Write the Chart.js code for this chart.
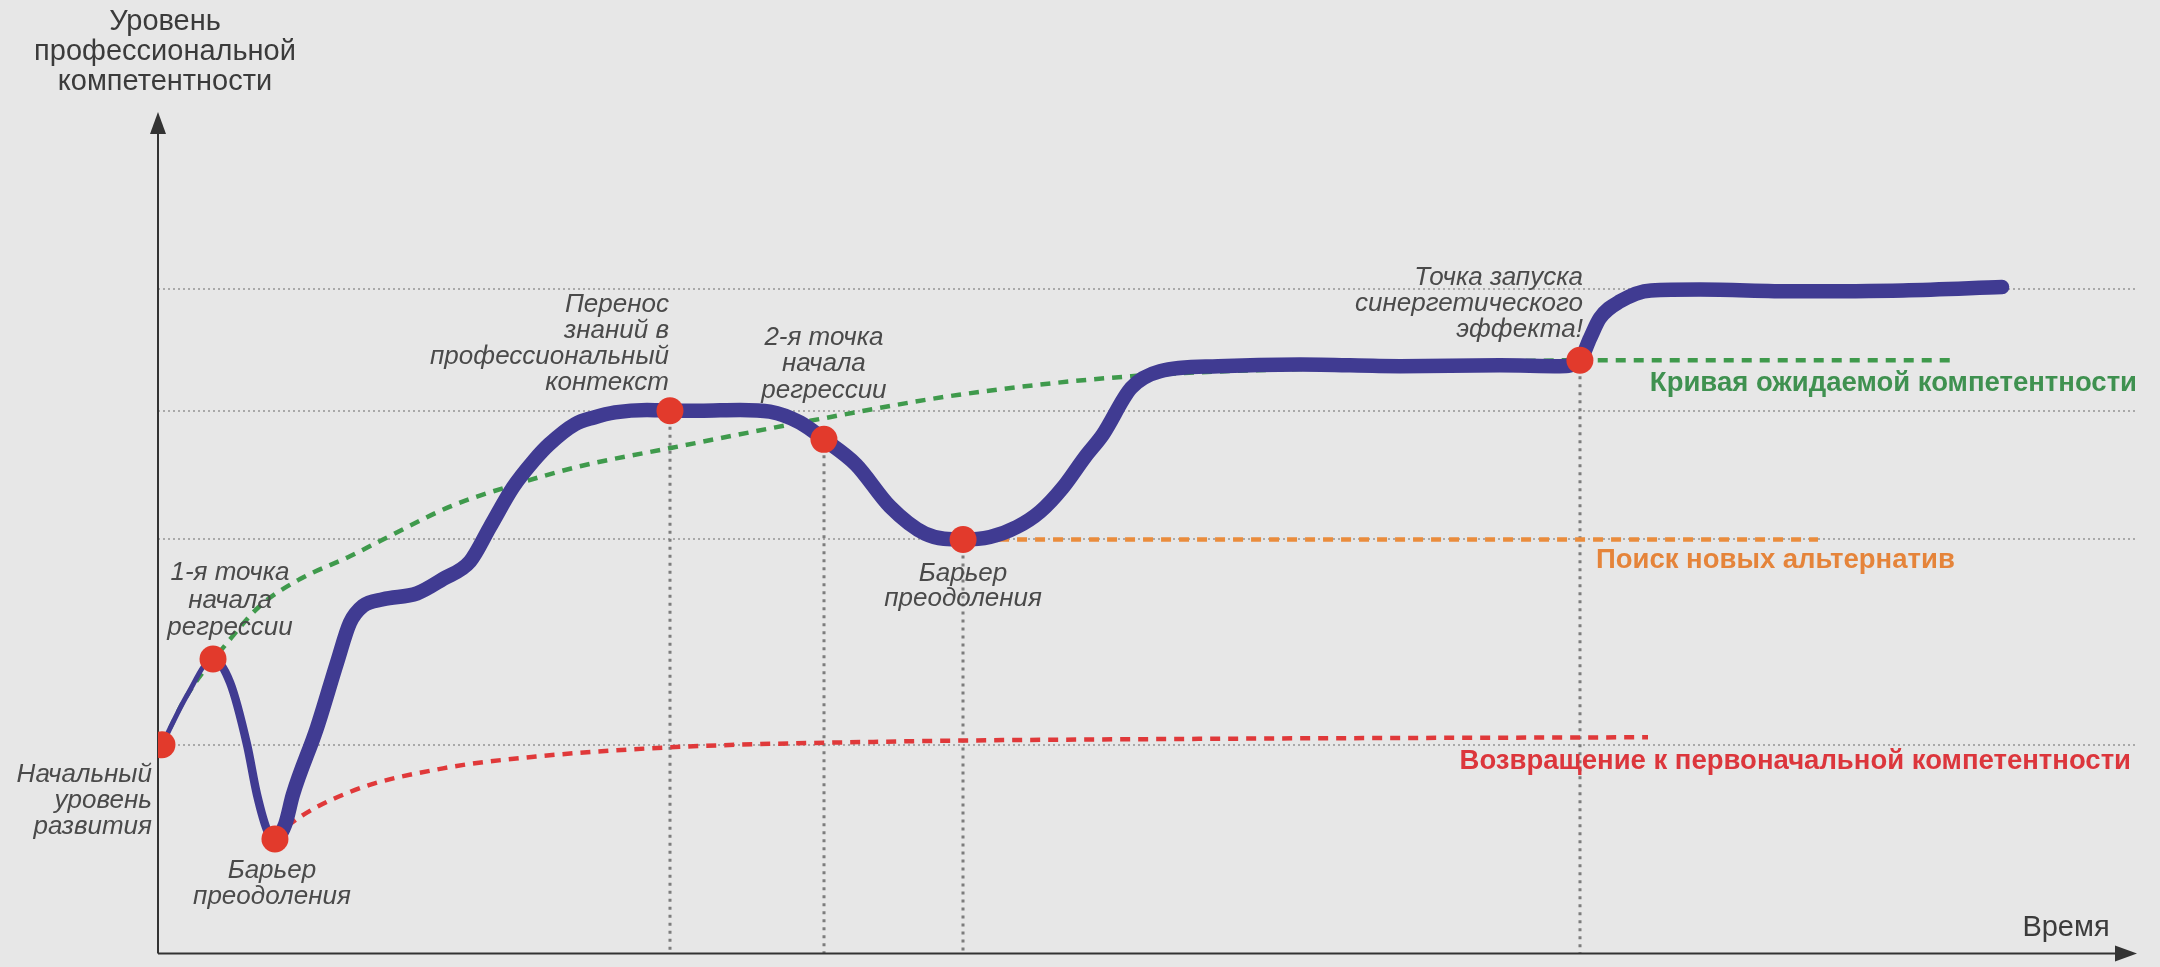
<!DOCTYPE html>
<html lang="ru">
<head>
    <meta charset="UTF-8">
    <title>Уровень профессиональной компетентности</title>
    <script src="https://cdn.jsdelivr.net/npm/chart.js"></script>
    <style>
        html, body { margin: 0; padding: 0; background: #e7e7e7; }
        #wrap { width: 2160px; height: 967px; }
    </style>
</head>
<body>
<div id="wrap"><canvas id="chart" width="2160" height="967"></canvas></div>
<script>
    // competence curve (time 0..100, level 0..100)
    const curveTime = [0.2, 1.47, 2.78, 3.64, 4.50, 5.00, 5.56, 5.91, 6.42, 6.82, 8.03, 9.05, 9.70, 10.36, 11.37, 13.09, 14.40, 15.77, 16.78, 17.94, 19.0, 19.76, 21.07, 22.03, 23.09, 24.71, 25.87, 27.39, 29.41, 30.92, 32.44, 33.65, 35.27, 36.99, 38.76, 40.68, 42.04, 43.41, 44.57, 45.73, 46.84, 47.75, 49.17, 50.63, 53.56, 57.71, 62.76, 67.81, 70.84, 71.85, 72.36, 72.86, 73.88, 75.44, 77.92, 82.67, 88.18, 93.18];
    const curveLevel = [24.8, 30.7, 35.0, 32.2, 24.8, 18.9, 14.4, 13.6, 15.3, 18.9, 26.8, 34.6, 39.3, 41.3, 42.1, 42.8, 44.5, 46.6, 50.7, 55.4, 58.6, 60.5, 62.9, 63.7, 64.3, 64.6, 64.5, 64.5, 64.6, 64.4, 63.1, 61.1, 58.1, 53.1, 49.9, 49.2, 49.5, 50.7, 52.5, 55.4, 59.0, 61.7, 67.2, 69.2, 69.8, 70.0, 69.8, 69.9, 69.8, 70.5, 73.1, 75.5, 77.5, 78.8, 78.9, 78.7, 78.8, 79.2];

    const expectedTime = [0.2, 1.47, 3.49, 5.15, 7.18, 9.70, 11.37, 14.75, 18.14, 21.32, 25.97, 32.95, 40.48, 49.17, 62.76, 71.85, 90.70];
    const expectedLevel = [24.8, 30.7, 36.9, 41.3, 44.5, 47.2, 49.2, 53.1, 55.8, 57.9, 60.1, 63.3, 66.4, 68.6, 69.8, 70.5, 70.5];

    const returnTime = [5.91, 6.47, 9.70, 14.40, 19.10, 25.87, 37.49, 52.0, 75.29];
    const returnLevel = [13.6, 15.0, 19.2, 22.0, 23.4, 24.5, 25.2, 25.5, 25.7];

    const searchTime = [40.68, 83.88];
    const searchLevel = [49.2, 49.2];

    const keyTime = [0.2, 2.78, 5.91, 25.87, 33.65, 40.68, 71.85];
    const keyLevel = [24.8, 35.0, 13.6, 64.5, 61.1, 49.2, 70.5];
    const keyLabels = [
        ['Начальный', 'уровень', 'развития'],
        ['1-я точка', 'начала', 'регрессии'],
        ['Барьер', 'преодоления'],
        ['Перенос', 'знаний в', 'профессиональный', 'контекст'],
        ['2-я точка', 'начала', 'регрессии'],
        ['Барьер', 'преодоления'],
        ['Точка запуска', 'синергетического', 'эффекта!']
    ];

    const gridLevels = [24.8, 49.2, 64.5, 79.0];
    const yTitle = ['Уровень', 'профессиональной', 'компетентности'];
    const xTitle = 'Время';
    const seriesNames = ['Кривая ожидаемой компетентности', 'Поиск новых альтернатив', 'Возвращение к первоначальной компетентности'];

    const pts = (xs, ys) => xs.map((x, i) => ({ x: x, y: ys[i] }));

    // where the point labels sit, in pixels from their dot
    const noteLayout = [
        { dx: -10, dy: 30, lh: 26, align: 'right' },
        { dx: 17, dy: -86, lh: 27.5, align: 'center' },
        { dx: -3, dy: 32, lh: 26, align: 'center' },
        { dx: -1, dy: -106, lh: 26, align: 'right' },
        { dx: 0, dy: -102, lh: 26.5, align: 'center' },
        { dx: 0, dy: 34, lh: 25, align: 'center' },
        { dx: 3, dy: -82, lh: 26, align: 'right' }
    ];

    const overlay = {
        id: 'overlay',
        beforeDraw(chart) {
            const c = chart.ctx;
            c.save();
            c.fillStyle = '#e7e7e7';
            c.fillRect(0, 0, chart.width, chart.height);
            c.restore();
        },
        beforeDatasetsDraw(chart) {
            const c = chart.ctx, a = chart.chartArea;
            const xs = chart.scales.x, ys = chart.scales.y;
            c.save();
            // dotted drop lines
            c.strokeStyle = '#7d7d7d';
            c.lineWidth = 3;
            c.setLineDash([3, 5]);
            [3, 4, 5, 6].forEach(i => {
                const px = Math.round(xs.getPixelForValue(keyTime[i]));
                c.beginPath();
                c.moveTo(px, ys.getPixelForValue(keyLevel[i]));
                c.lineTo(px, a.bottom);
                c.stroke();
            });
            c.setLineDash([]);
            // axes with arrows
            c.strokeStyle = '#333';
            c.fillStyle = '#333';
            c.lineWidth = 2;
            c.beginPath();
            c.moveTo(a.left, a.bottom);
            c.lineTo(a.left, a.top + 10);
            c.moveTo(a.left, a.bottom);
            c.lineTo(a.right - 10, a.bottom);
            c.stroke();
            c.beginPath();
            c.moveTo(a.left, a.top);
            c.lineTo(a.left - 8, a.top + 22);
            c.lineTo(a.left + 8, a.top + 22);
            c.closePath();
            c.fill();
            c.beginPath();
            c.moveTo(a.right, a.bottom);
            c.lineTo(a.right - 22, a.bottom - 8);
            c.lineTo(a.right - 22, a.bottom + 8);
            c.closePath();
            c.fill();
            c.restore();
        },
        afterDatasetsDraw(chart) {
            const c = chart.ctx, a = chart.chartArea;
            const xs = chart.scales.x, ys = chart.scales.y;
            c.save();
            c.textBaseline = 'middle';
            // axis titles
            c.fillStyle = '#3b3b3b';
            c.font = '29px "Liberation Sans", Arial, sans-serif';
            c.textAlign = 'center';
            yTitle.forEach((t, i) => c.fillText(t, a.left + 7, 22 + i * 30));
            c.fillText(xTitle, a.right - 71, a.bottom - 26);
            // point notes
            c.fillStyle = '#4a4a4a';
            c.font = 'italic 26px "Liberation Sans", Arial, sans-serif';
            keyLabels.forEach((lines, i) => {
                const L = noteLayout[i];
                const px = xs.getPixelForValue(keyTime[i]) + L.dx;
                const py = ys.getPixelForValue(keyLevel[i]) + L.dy;
                c.textAlign = L.align;
                lines.forEach((t, j) => c.fillText(t, px, py + j * L.lh));
            });
            // series names
            c.font = 'bold 27.5px "Liberation Sans", Arial, sans-serif';
            c.fillStyle = '#3f9150';
            c.textAlign = 'right';
            c.fillText(seriesNames[0], a.right, ys.getPixelForValue(expectedLevel[expectedLevel.length - 1]) + 23);
            c.fillStyle = '#e5843a';
            c.textAlign = 'left';
            c.fillText(seriesNames[1], xs.getPixelForValue(keyTime[6]) + 16, ys.getPixelForValue(searchLevel[0]) + 21);
            c.fillStyle = '#dc363c';
            c.textAlign = 'right';
            c.fillText(seriesNames[2], a.right - 6, ys.getPixelForValue(returnLevel[returnLevel.length - 1]) + 24);
            c.restore();
        }
    };

    const curveWidth = ctx => ctx.p0DataIndex < 2 ? 5 : (ctx.p0DataIndex < 7 ? 8.5 : 14.5);

    new Chart(document.getElementById('chart'), {
        type: 'line',
        data: {
            datasets: [
                {
                    label: 'Ключевые точки',
                    data: pts(keyTime, keyLevel),
                    showLine: false,
                    pointRadius: 13.5,
                    pointBackgroundColor: '#e23a2c',
                    pointBorderWidth: 0,
                    order: 0
                },
                {
                    label: 'Уровень профессиональной компетентности',
                    data: pts(curveTime, curveLevel),
                    borderColor: '#403b92',
                    borderWidth: 14.5,
                    segment: { borderWidth: curveWidth },
                    borderCapStyle: 'round',
                    borderJoinStyle: 'round',
                    cubicInterpolationMode: 'monotone',
                    pointRadius: 0,
                    fill: false,
                    order: 1
                },
                {
                    label: seriesNames[0],
                    data: pts(expectedTime, expectedLevel),
                    borderColor: '#3f9a4c',
                    borderWidth: 4.5,
                    borderDash: [10, 8],
                    cubicInterpolationMode: 'monotone',
                    pointRadius: 0,
                    fill: false,
                    order: 2
                },
                {
                    label: seriesNames[1],
                    data: pts(searchTime, searchLevel),
                    borderColor: '#ea8c3c',
                    borderWidth: 4.5,
                    borderDash: [10, 8],
                    pointRadius: 0,
                    fill: false,
                    order: 3
                },
                {
                    label: seriesNames[2],
                    data: pts(returnTime, returnLevel),
                    borderColor: '#e0393a',
                    borderWidth: 4.5,
                    borderDash: [10, 8],
                    cubicInterpolationMode: 'monotone',
                    pointRadius: 0,
                    fill: false,
                    order: 4
                }
            ]
        },
        options: {
            responsive: false,
            animation: false,
            layout: { padding: { left: 158, top: 112, right: 23, bottom: 7 } },
            plugins: { legend: { display: false }, tooltip: { enabled: false } },
            scales: {
                x: {
                    type: 'linear', min: 0, max: 100,
                    ticks: { display: false },
                    grid: { display: false, drawTicks: false },
                    border: { display: false }
                },
                y: {
                    type: 'linear', min: 0, max: 100,
                    afterBuildTicks: s => { s.ticks = gridLevels.map(v => ({ value: v })); },
                    ticks: { display: false },
                    grid: { color: '#a9a9a9', lineWidth: 2, drawTicks: false },
                    border: { display: false, dash: [2, 3] }
                }
            }
        },
        plugins: [overlay]
    });
</script>
</body>
</html>
